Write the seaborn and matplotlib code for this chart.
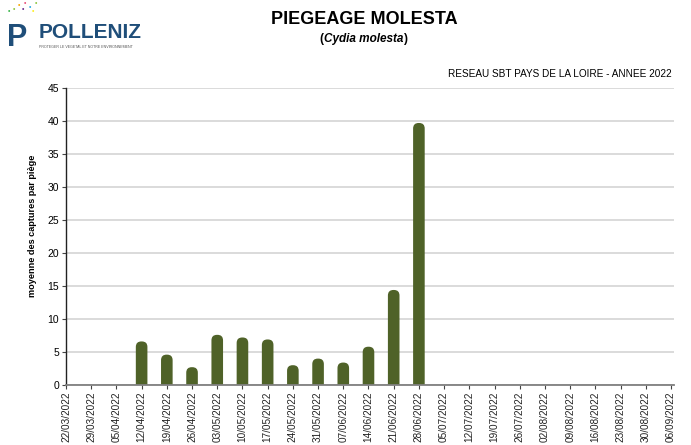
import numpy as np
import pandas as pd
import matplotlib
matplotlib.use("Agg")
import matplotlib.pyplot as plt
from matplotlib.patches import FancyBboxPatch
import seaborn as sns

dates = ["22/03/2022", "29/03/2022", "05/04/2022", "12/04/2022", "19/04/2022",
         "26/04/2022", "03/05/2022", "10/05/2022", "17/05/2022", "24/05/2022",
         "31/05/2022", "07/06/2022", "14/06/2022", "21/06/2022", "28/06/2022",
         "05/07/2022", "12/07/2022", "19/07/2022", "26/07/2022", "02/08/2022",
         "09/08/2022", "16/08/2022", "23/08/2022", "30/08/2022", "06/09/2022"]
captures = [np.nan, np.nan, np.nan, 6.6, 4.6, 2.7, 7.6, 7.2, 6.9, 3.0, 4.0, 3.4,
            5.8, 14.4, 39.7, np.nan, np.nan, np.nan, np.nan, np.nan, np.nan,
            np.nan, np.nan, np.nan, np.nan]
yticks = [0, 5, 10, 15, 20, 25, 30, 35, 40, 45]

sns.set_theme(style="white")
plt.rcParams['font.family'] = ['Liberation Sans', 'DejaVu Sans']
plt.rcParams['text.color'] = 'black'
plt.rcParams['axes.labelcolor'] = 'black'
plt.rcParams['xtick.color'] = 'black'
plt.rcParams['ytick.color'] = 'black'

df = pd.DataFrame({"date": dates, "val": captures})

fig = plt.figure(figsize=(6.91, 4.45), dpi=100)
ax = fig.add_axes([66 / 691, 1 - 385 / 445, (674 - 66) / 691, (385 - 88) / 445])

bar_color = "#4f6228"
sns.barplot(data=df.dropna(), x="date", y="val", order=dates, color=bar_color,
            width=0.46, saturation=1, ax=ax, linewidth=0)

ax.set_xlim(0, 24.12)
ax.set_ylim(0, 45)

# round the bar tops (replace rectangles by rounded boxes of same geometry)
px_x = (674 - 66) / 24.12   # pixels per x unit
px_y = (385 - 88) / 45      # pixels per y unit
rects = list(ax.patches)
for r in rects:
    x0, w, h = r.get_x(), r.get_width(), r.get_height()
    rad = w / 2 * 0.95
    fb = FancyBboxPatch((x0, -2), w, h + 2,
                        boxstyle=f"round,pad=0,rounding_size={rad}",
                        mutation_aspect=px_x / px_y,
                        facecolor=bar_color, edgecolor="none", zorder=r.get_zorder())
    r.remove()
    ax.add_patch(fb)

ax.set_yticks(yticks)
ax.set_yticklabels([str(v) for v in yticks], fontsize=7.5)
ax.set_xticks(range(len(dates)))
ax.set_xticklabels(dates, rotation=90, fontsize=7.2, color="#222222")
ax.yaxis.grid(True, color="#d4d4d4", linewidth=1.2)
ax.set_axisbelow(True)
ax.set_xlabel("")
ax.set_ylabel("moyenne des captures par piège", fontsize=6.6, fontweight="bold")
ax.yaxis.set_label_coords(-0.047, 0.535)

for s in ["top", "right"]:
    ax.spines[s].set_visible(False)
ax.spines["left"].set_color("#222222")
ax.spines["left"].set_linewidth(1.0)
ax.spines["bottom"].set_color("#808080")
ax.spines["bottom"].set_linewidth(1.3)
ax.tick_params(axis="both", which="both", direction="out", length=3, width=0.8,
               color="#444444", bottom=True, left=True, pad=2)

# Titles
fig.text(364 / 691, 1 - 20 / 445, "PIEGEAGE MOLESTA", ha="center", va="center",
         fontsize=13, fontweight="bold")

renderer = fig.canvas.get_renderer()
parts = [("(", "normal"), ("Cydia molesta", "italic"), (")", "normal")]
texts = []
for s, st in parts:
    t = fig.text(0, 1 - 39 / 445, s, ha="left", va="center", fontsize=8.5,
                 fontweight="bold", fontstyle=st)
    texts.append(t)
widths = [t.get_window_extent(renderer).width for t in texts]
total = sum(widths) + 1
xstart = 364 - total / 2
for t, w in zip(texts, widths):
    t.set_x(xstart / 691)
    xstart += w + 0.5

fig.text(672 / 691, 1 - 74 / 445, "RESEAU SBT PAYS DE LA LOIRE - ANNEE 2022",
         ha="right", va="center", fontsize=7.2)

# Logo (approximation)
fig.text(7 / 691, 1 - 38 / 445, "P", ha="left", va="center", fontsize=22,
         fontweight="bold", color="#1f4e79")
for (xx, yy, cc) in [(14, 9, "#8dc63f"), (19, 5, "#f7a600"), (25, 3, "#e94e77"),
                     (30, 7, "#29abe2"), (36, 3, "#8dc63f"), (23, 10, "#662d91"),
                     (9, 12, "#39b54a"), (33, 11, "#fcee21")]:
    fig.text(xx / 691, 1 - yy / 445, "•", ha="center", va="center", fontsize=5, color=cc)
fig.text(39 / 691, 1 - 32 / 445, "POLLENIZ", ha="left", va="center", fontsize=15,
         fontweight="bold", color="#1f4e79")
fig.text(39 / 691, 1 - 47 / 445, "PROTEGER LE VEGETAL ET NOTRE ENVIRONNEMENT",
         ha="left", va="center", fontsize=2.6, color="#555555")

fig.savefig("out.png", dpi=100)
